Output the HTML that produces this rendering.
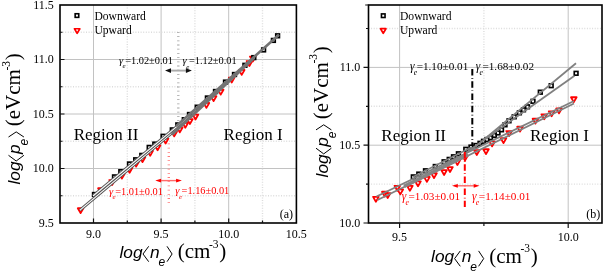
<!DOCTYPE html><html><head><meta charset="utf-8"><style>html,body{margin:0;padding:0;background:#fff;overflow:hidden}svg{display:block;will-change:transform}</style></head><body>
<svg width="603" height="271" viewBox="0 0 603 271">
<rect width="603" height="271" fill="#fff"/>
<line x1="93.5" y1="5" x2="93.5" y2="223" stroke="#c2c2c2" stroke-width="1"/>
<line x1="161.1" y1="5" x2="161.1" y2="223" stroke="#c2c2c2" stroke-width="1"/>
<line x1="228.7" y1="5" x2="228.7" y2="223" stroke="#c2c2c2" stroke-width="1"/>
<line x1="60" y1="59.5" x2="296.4" y2="59.5" stroke="#c2c2c2" stroke-width="1"/>
<line x1="60" y1="114" x2="296.4" y2="114" stroke="#c2c2c2" stroke-width="1"/>
<line x1="60" y1="168.5" x2="296.4" y2="168.5" stroke="#c2c2c2" stroke-width="1"/>
<line x1="127.3" y1="5" x2="127.3" y2="223" stroke="#dcdcdc" stroke-width="1.4" stroke-dasharray="1 1.6"/>
<line x1="194.9" y1="5" x2="194.9" y2="223" stroke="#dcdcdc" stroke-width="1.4" stroke-dasharray="1 1.6"/>
<line x1="262.5" y1="5" x2="262.5" y2="223" stroke="#dcdcdc" stroke-width="1.4" stroke-dasharray="1 1.6"/>
<line x1="60" y1="32.25" x2="296.4" y2="32.25" stroke="#dcdcdc" stroke-width="1.4" stroke-dasharray="1 1.6"/>
<line x1="60" y1="86.75" x2="296.4" y2="86.75" stroke="#dcdcdc" stroke-width="1.4" stroke-dasharray="1 1.6"/>
<line x1="60" y1="141.25" x2="296.4" y2="141.25" stroke="#dcdcdc" stroke-width="1.4" stroke-dasharray="1 1.6"/>
<line x1="60" y1="195.75" x2="296.4" y2="195.75" stroke="#dcdcdc" stroke-width="1.4" stroke-dasharray="1 1.6"/>
<line x1="399.6" y1="5" x2="399.6" y2="223" stroke="#c2c2c2" stroke-width="1"/>
<line x1="568.2" y1="5" x2="568.2" y2="223" stroke="#c2c2c2" stroke-width="1"/>
<line x1="368.5" y1="67.4" x2="602" y2="67.4" stroke="#c2c2c2" stroke-width="1"/>
<line x1="368.5" y1="145.2" x2="602" y2="145.2" stroke="#c2c2c2" stroke-width="1"/>
<line x1="483.9" y1="5" x2="483.9" y2="223" stroke="#dcdcdc" stroke-width="1.4" stroke-dasharray="1 1.6"/>
<line x1="368.5" y1="28.5" x2="602" y2="28.5" stroke="#dcdcdc" stroke-width="1.4" stroke-dasharray="1 1.6"/>
<line x1="368.5" y1="106.3" x2="602" y2="106.3" stroke="#dcdcdc" stroke-width="1.4" stroke-dasharray="1 1.6"/>
<line x1="368.5" y1="184.1" x2="602" y2="184.1" stroke="#dcdcdc" stroke-width="1.4" stroke-dasharray="1 1.6"/>
<path d="M77.8 208.25H83.4L80.6 213.15Z" fill="#fff" stroke="#f00" stroke-width="1.8" stroke-linejoin="round"/>
<path d="M98.1 188.25H103.7L100.9 193.15Z" fill="#fff" stroke="#f00" stroke-width="1.8" stroke-linejoin="round"/>
<path d="M109.3 180.15H114.9L112.1 185.05Z" fill="#fff" stroke="#f00" stroke-width="1.8" stroke-linejoin="round"/>
<path d="M119.1 173.75H124.7L121.9 178.65Z" fill="#fff" stroke="#f00" stroke-width="1.8" stroke-linejoin="round"/>
<path d="M126.8 167.85H132.4L129.6 172.75Z" fill="#fff" stroke="#f00" stroke-width="1.8" stroke-linejoin="round"/>
<path d="M133.3 161.75H138.9L136.1 166.65Z" fill="#fff" stroke="#f00" stroke-width="1.8" stroke-linejoin="round"/>
<path d="M139.7 157.25H145.3L142.5 162.15Z" fill="#fff" stroke="#f00" stroke-width="1.8" stroke-linejoin="round"/>
<path d="M147.4 150.85H153L150.2 155.75Z" fill="#fff" stroke="#f00" stroke-width="1.8" stroke-linejoin="round"/>
<path d="M154.8 145.35H160.4L157.6 150.25Z" fill="#fff" stroke="#f00" stroke-width="1.8" stroke-linejoin="round"/>
<path d="M162.8 138.65H168.4L165.6 143.55Z" fill="#fff" stroke="#f00" stroke-width="1.8" stroke-linejoin="round"/>
<path d="M171.4 131.45H177L174.2 136.35Z" fill="#fff" stroke="#f00" stroke-width="1.8" stroke-linejoin="round"/>
<path d="M177 127.45H182.6L179.8 132.35Z" fill="#fff" stroke="#f00" stroke-width="1.8" stroke-linejoin="round"/>
<path d="M182.5 122.85H188.1L185.3 127.75Z" fill="#fff" stroke="#f00" stroke-width="1.8" stroke-linejoin="round"/>
<path d="M187.1 119.15H192.7L189.9 124.05Z" fill="#fff" stroke="#f00" stroke-width="1.8" stroke-linejoin="round"/>
<path d="M192.7 114.55H198.3L195.5 119.45Z" fill="#fff" stroke="#f00" stroke-width="1.8" stroke-linejoin="round"/>
<path d="M203.6 102.95H209.2L206.4 107.85Z" fill="#fff" stroke="#f00" stroke-width="1.8" stroke-linejoin="round"/>
<path d="M210.8 96.25H216.4L213.6 101.15Z" fill="#fff" stroke="#f00" stroke-width="1.8" stroke-linejoin="round"/>
<path d="M217.9 89.75H223.5L220.7 94.65Z" fill="#fff" stroke="#f00" stroke-width="1.8" stroke-linejoin="round"/>
<path d="M228.9 77.65H234.5L231.7 82.55Z" fill="#fff" stroke="#f00" stroke-width="1.8" stroke-linejoin="round"/>
<path d="M238.9 69.95H244.5L241.7 74.85Z" fill="#fff" stroke="#f00" stroke-width="1.8" stroke-linejoin="round"/>
<path d="M246.6 61.05H252.2L249.4 65.95Z" fill="#fff" stroke="#f00" stroke-width="1.8" stroke-linejoin="round"/>
<path d="M250 56.65H255.6L252.8 61.55Z" fill="#fff" stroke="#f00" stroke-width="1.8" stroke-linejoin="round"/>
<rect x="92.65" y="192.65" width="3.7" height="3.7" fill="#fff" stroke="#000" stroke-width="1.65"/>
<rect x="112.65" y="175.05" width="3.7" height="3.7" fill="#fff" stroke="#000" stroke-width="1.65"/>
<rect x="118.95" y="169.85" width="3.7" height="3.7" fill="#fff" stroke="#000" stroke-width="1.65"/>
<rect x="127.65" y="162.15" width="3.7" height="3.7" fill="#fff" stroke="#000" stroke-width="1.65"/>
<rect x="133.85" y="157.95" width="3.7" height="3.7" fill="#fff" stroke="#000" stroke-width="1.65"/>
<rect x="139.95" y="153.55" width="3.7" height="3.7" fill="#fff" stroke="#000" stroke-width="1.65"/>
<rect x="147.35" y="145.55" width="3.7" height="3.7" fill="#fff" stroke="#000" stroke-width="1.65"/>
<rect x="152.95" y="142.25" width="3.7" height="3.7" fill="#fff" stroke="#000" stroke-width="1.65"/>
<rect x="161.25" y="134.45" width="3.7" height="3.7" fill="#fff" stroke="#000" stroke-width="1.65"/>
<rect x="170.45" y="128.05" width="3.7" height="3.7" fill="#fff" stroke="#000" stroke-width="1.65"/>
<rect x="175.95" y="123.05" width="3.7" height="3.7" fill="#fff" stroke="#000" stroke-width="1.65"/>
<rect x="182.45" y="117.85" width="3.7" height="3.7" fill="#fff" stroke="#000" stroke-width="1.65"/>
<rect x="187.65" y="112.65" width="3.7" height="3.7" fill="#fff" stroke="#000" stroke-width="1.65"/>
<rect x="195.35" y="105.35" width="3.7" height="3.7" fill="#fff" stroke="#000" stroke-width="1.65"/>
<rect x="205.55" y="96.15" width="3.7" height="3.7" fill="#fff" stroke="#000" stroke-width="1.65"/>
<rect x="213.65" y="89.65" width="3.7" height="3.7" fill="#fff" stroke="#000" stroke-width="1.65"/>
<rect x="223.65" y="80.25" width="3.7" height="3.7" fill="#fff" stroke="#000" stroke-width="1.65"/>
<rect x="232.65" y="72.65" width="3.7" height="3.7" fill="#fff" stroke="#000" stroke-width="1.65"/>
<rect x="243.05" y="63.45" width="3.7" height="3.7" fill="#fff" stroke="#000" stroke-width="1.65"/>
<rect x="251.95" y="55.75" width="3.7" height="3.7" fill="#fff" stroke="#000" stroke-width="1.65"/>
<rect x="261.75" y="48.05" width="3.7" height="3.7" fill="#fff" stroke="#000" stroke-width="1.65"/>
<rect x="271.55" y="38.55" width="3.7" height="3.7" fill="#fff" stroke="#000" stroke-width="1.65"/>
<rect x="275.75" y="33.95" width="3.7" height="3.7" fill="#fff" stroke="#000" stroke-width="1.65"/>
<line x1="80" y1="210.12" x2="185" y2="121.92" stroke="#555555" stroke-width="3.0"/>
<line x1="80" y1="210.12" x2="185" y2="121.92" stroke="#fff" stroke-width="1.1"/>
<line x1="93" y1="195.96" x2="190" y2="115.64" stroke="#555555" stroke-width="3.0"/>
<line x1="93" y1="195.96" x2="190" y2="115.64" stroke="#fff" stroke-width="1.1"/>
<line x1="172" y1="134.29" x2="254" y2="57.87" stroke="#737373" stroke-width="3.0"/>
<line x1="176" y1="126.22" x2="279" y2="34.76" stroke="#737373" stroke-width="2.6"/>
<path d="M373.1 196.85H378.7L375.9 201.75Z" fill="#fff" stroke="#f00" stroke-width="1.8" stroke-linejoin="round"/>
<path d="M382 191.75H387.6L384.8 196.65Z" fill="#fff" stroke="#f00" stroke-width="1.8" stroke-linejoin="round"/>
<path d="M384.9 193.15H390.5L387.7 198.05Z" fill="#fff" stroke="#f00" stroke-width="1.8" stroke-linejoin="round"/>
<path d="M394.5 185.85H400.1L397.3 190.75Z" fill="#fff" stroke="#f00" stroke-width="1.8" stroke-linejoin="round"/>
<path d="M397.5 189.45H403.1L400.3 194.35Z" fill="#fff" stroke="#f00" stroke-width="1.8" stroke-linejoin="round"/>
<path d="M407.1 185.85H412.7L409.9 190.75Z" fill="#fff" stroke="#f00" stroke-width="1.8" stroke-linejoin="round"/>
<path d="M415.2 181.35H420.8L418 186.25Z" fill="#fff" stroke="#f00" stroke-width="1.8" stroke-linejoin="round"/>
<path d="M424.1 176.95H429.7L426.9 181.85Z" fill="#fff" stroke="#f00" stroke-width="1.8" stroke-linejoin="round"/>
<path d="M431.2 173.25H436.8L434 178.15Z" fill="#fff" stroke="#f00" stroke-width="1.8" stroke-linejoin="round"/>
<path d="M441.3 170.05H446.9L444.1 174.95Z" fill="#fff" stroke="#f00" stroke-width="1.8" stroke-linejoin="round"/>
<path d="M447.2 167.05H452.8L450 171.95Z" fill="#fff" stroke="#f00" stroke-width="1.8" stroke-linejoin="round"/>
<path d="M454.6 160.15H460.2L457.4 165.05Z" fill="#fff" stroke="#f00" stroke-width="1.8" stroke-linejoin="round"/>
<path d="M462.2 155.65H467.8L465 160.55Z" fill="#fff" stroke="#f00" stroke-width="1.8" stroke-linejoin="round"/>
<path d="M474 150.05H479.6L476.8 154.95Z" fill="#fff" stroke="#f00" stroke-width="1.8" stroke-linejoin="round"/>
<path d="M483.2 149.25H488.8L486 154.15Z" fill="#fff" stroke="#f00" stroke-width="1.8" stroke-linejoin="round"/>
<path d="M489.3 141.45H494.9L492.1 146.35Z" fill="#fff" stroke="#f00" stroke-width="1.8" stroke-linejoin="round"/>
<path d="M500.7 138.25H506.3L503.5 143.15Z" fill="#fff" stroke="#f00" stroke-width="1.8" stroke-linejoin="round"/>
<path d="M506.3 131.15H511.9L509.1 136.05Z" fill="#fff" stroke="#f00" stroke-width="1.8" stroke-linejoin="round"/>
<path d="M517.2 126.75H522.8L520 131.65Z" fill="#fff" stroke="#f00" stroke-width="1.8" stroke-linejoin="round"/>
<path d="M532.6 118.75H538.2L535.4 123.65Z" fill="#fff" stroke="#f00" stroke-width="1.8" stroke-linejoin="round"/>
<path d="M541.4 114.35H547L544.2 119.25Z" fill="#fff" stroke="#f00" stroke-width="1.8" stroke-linejoin="round"/>
<path d="M548.8 111.35H554.4L551.6 116.25Z" fill="#fff" stroke="#f00" stroke-width="1.8" stroke-linejoin="round"/>
<path d="M556.2 108.45H561.8L559 113.35Z" fill="#fff" stroke="#f00" stroke-width="1.8" stroke-linejoin="round"/>
<path d="M571 97.25H576.6L573.8 102.15Z" fill="#fff" stroke="#f00" stroke-width="1.8" stroke-linejoin="round"/>
<rect x="411.45" y="175.05" width="3.7" height="3.7" fill="#fff" stroke="#000" stroke-width="1.65"/>
<rect x="416.95" y="172.25" width="3.7" height="3.7" fill="#fff" stroke="#000" stroke-width="1.65"/>
<rect x="423.65" y="168.95" width="3.7" height="3.7" fill="#fff" stroke="#000" stroke-width="1.65"/>
<rect x="433.45" y="164.65" width="3.7" height="3.7" fill="#fff" stroke="#000" stroke-width="1.65"/>
<rect x="442.25" y="159.95" width="3.7" height="3.7" fill="#fff" stroke="#000" stroke-width="1.65"/>
<rect x="447.35" y="157.55" width="3.7" height="3.7" fill="#fff" stroke="#000" stroke-width="1.65"/>
<rect x="451.65" y="154.95" width="3.7" height="3.7" fill="#fff" stroke="#000" stroke-width="1.65"/>
<rect x="456.55" y="151.95" width="3.7" height="3.7" fill="#fff" stroke="#000" stroke-width="1.65"/>
<rect x="463.95" y="147.45" width="3.7" height="3.7" fill="#fff" stroke="#000" stroke-width="1.65"/>
<rect x="469.15" y="145.25" width="3.7" height="3.7" fill="#fff" stroke="#000" stroke-width="1.65"/>
<rect x="474.15" y="143.65" width="3.7" height="3.7" fill="#fff" stroke="#000" stroke-width="1.65"/>
<rect x="478.15" y="141.45" width="3.7" height="3.7" fill="#fff" stroke="#000" stroke-width="1.65"/>
<rect x="481.65" y="139.45" width="3.7" height="3.7" fill="#fff" stroke="#000" stroke-width="1.65"/>
<rect x="485.15" y="137.65" width="3.7" height="3.7" fill="#fff" stroke="#000" stroke-width="1.65"/>
<rect x="488.65" y="135.85" width="3.7" height="3.7" fill="#fff" stroke="#000" stroke-width="1.65"/>
<rect x="492.55" y="133.55" width="3.7" height="3.7" fill="#fff" stroke="#000" stroke-width="1.65"/>
<rect x="496.15" y="131.05" width="3.7" height="3.7" fill="#fff" stroke="#000" stroke-width="1.65"/>
<rect x="499.65" y="127.95" width="3.7" height="3.7" fill="#fff" stroke="#000" stroke-width="1.65"/>
<rect x="503.15" y="122.95" width="3.7" height="3.7" fill="#fff" stroke="#000" stroke-width="1.65"/>
<rect x="507.15" y="118.95" width="3.7" height="3.7" fill="#fff" stroke="#000" stroke-width="1.65"/>
<rect x="512.35" y="114.95" width="3.7" height="3.7" fill="#fff" stroke="#000" stroke-width="1.65"/>
<rect x="517.55" y="110.95" width="3.7" height="3.7" fill="#fff" stroke="#000" stroke-width="1.65"/>
<rect x="521.65" y="107.95" width="3.7" height="3.7" fill="#fff" stroke="#000" stroke-width="1.65"/>
<rect x="525.65" y="104.95" width="3.7" height="3.7" fill="#fff" stroke="#000" stroke-width="1.65"/>
<rect x="531.15" y="99.45" width="3.7" height="3.7" fill="#fff" stroke="#000" stroke-width="1.65"/>
<rect x="538.45" y="90.35" width="3.7" height="3.7" fill="#fff" stroke="#000" stroke-width="1.65"/>
<rect x="549.35" y="83.85" width="3.7" height="3.7" fill="#fff" stroke="#000" stroke-width="1.65"/>
<rect x="574.25" y="71.45" width="3.7" height="3.7" fill="#fff" stroke="#000" stroke-width="1.65"/>
<line x1="376.5" y1="196.5" x2="574" y2="101" stroke="#808080" stroke-width="1.8"/>
<line x1="377.5" y1="200" x2="574" y2="103.5" stroke="#808080" stroke-width="1.8"/>
<line x1="465" y1="153.5" x2="574.5" y2="75.7" stroke="#808080" stroke-width="1.8"/>
<line x1="470" y1="151.1" x2="576" y2="63.3" stroke="#808080" stroke-width="1.8"/>
<line x1="413" y1="177" x2="472" y2="147" stroke="#808080" stroke-width="1.8"/>
<line x1="404" y1="186.4" x2="468" y2="154.6" stroke="#858585" stroke-width="3.8"/>
<rect x="60" y="5" width="236.4" height="218" fill="none" stroke="#000" stroke-width="1.6"/>
<rect x="368.5" y="5" width="233.5" height="218" fill="none" stroke="#000" stroke-width="1.6"/>
<path d="M93.5 223V218.5 M161.1 223V218.5 M228.7 223V218.5 M127.3 223V220.5 M194.9 223V220.5 M262.5 223V220.5 M60 59.5H64.5 M60 114H64.5 M60 168.5H64.5 M60 32.25H62.5 M60 86.75H62.5 M60 141.25H62.5 M60 195.75H62.5 M399.6 223V228 M568.2 223V228 M483.9 223V226 M368.5 67.4H363.5 M368.5 145.2H363.5 M368.5 223H363.5 M368.5 28.5H366 M368.5 106.3H366 M368.5 184.1H366 M368.5 5H365.2" stroke="#111" stroke-width="1.2" fill="none"/>
<text x="93.5" y="238.2" font-size="12" text-anchor="middle" fill="#000" style="font-family:'Liberation Serif',serif" >9.0</text>
<text x="161.1" y="238.2" font-size="12" text-anchor="middle" fill="#000" style="font-family:'Liberation Serif',serif" >9.5</text>
<text x="228.7" y="238.2" font-size="12" text-anchor="middle" fill="#000" style="font-family:'Liberation Serif',serif" >10.0</text>
<text x="296.3" y="238.2" font-size="12" text-anchor="middle" fill="#000" style="font-family:'Liberation Serif',serif" >10.5</text>
<text x="53.8" y="8.6" font-size="12" text-anchor="end" fill="#000" style="font-family:'Liberation Serif',serif" >11.5</text>
<text x="53.8" y="63.1" font-size="12" text-anchor="end" fill="#000" style="font-family:'Liberation Serif',serif" >11.0</text>
<text x="53.8" y="117.6" font-size="12" text-anchor="end" fill="#000" style="font-family:'Liberation Serif',serif" >10.5</text>
<text x="53.8" y="172.1" font-size="12" text-anchor="end" fill="#000" style="font-family:'Liberation Serif',serif" >10.0</text>
<text x="53.8" y="226.6" font-size="12" text-anchor="end" fill="#000" style="font-family:'Liberation Serif',serif" >9.5</text>
<text x="399.6" y="241.2" font-size="12" text-anchor="middle" fill="#000" style="font-family:'Liberation Serif',serif" >9.5</text>
<text x="568.2" y="241.2" font-size="12" text-anchor="middle" fill="#000" style="font-family:'Liberation Serif',serif" >10.0</text>
<text x="360.3" y="71.4" font-size="12" text-anchor="end" fill="#000" style="font-family:'Liberation Serif',serif" >11.0</text>
<text x="360.3" y="149.2" font-size="12" text-anchor="end" fill="#000" style="font-family:'Liberation Serif',serif" >10.5</text>
<text x="360.3" y="227" font-size="12" text-anchor="end" fill="#000" style="font-family:'Liberation Serif',serif" >10.0</text>
<rect x="75.15" y="13.75" width="3.6" height="3.6" fill="#fff" stroke="#000" stroke-width="1.6"/>
<path d="M74.45 28.75H79.85L77.15 33.35Z" fill="#fff" stroke="#f00" stroke-width="1.7" stroke-linejoin="round"/>
<text x="94.4" y="19.8" font-size="11.6" text-anchor="start" fill="#000" style="font-family:'Liberation Serif',serif" >Downward</text>
<text x="94.4" y="33.6" font-size="11.6" text-anchor="start" fill="#000" style="font-family:'Liberation Serif',serif" >Upward</text>
<rect x="381.45" y="13.9" width="3.6" height="3.6" fill="#fff" stroke="#000" stroke-width="1.6"/>
<path d="M380.55 28.7H385.95L383.25 33.3Z" fill="#fff" stroke="#f00" stroke-width="1.7" stroke-linejoin="round"/>
<text x="400" y="20.2" font-size="11.6" text-anchor="start" fill="#000" style="font-family:'Liberation Serif',serif" >Downward</text>
<text x="400" y="34" font-size="11.6" text-anchor="start" fill="#000" style="font-family:'Liberation Serif',serif" >Upward</text>
<text x="73.7" y="139.6" font-size="17" text-anchor="start" fill="#000" style="font-family:'Liberation Serif',serif" >Region II</text>
<text x="223.6" y="139.7" font-size="17" text-anchor="start" fill="#000" style="font-family:'Liberation Serif',serif" >Region I</text>
<text x="381.3" y="140.7" font-size="17" text-anchor="start" fill="#000" style="font-family:'Liberation Serif',serif" >Region II</text>
<text x="530" y="140.5" font-size="17" text-anchor="start" fill="#000" style="font-family:'Liberation Serif',serif" >Region I</text>
<text x="279.7" y="217.8" font-size="12" text-anchor="start" fill="#000" style="font-family:'Liberation Serif',serif" >(a)</text>
<text x="586.2" y="217.9" font-size="12" text-anchor="start" fill="#000" style="font-family:'Liberation Serif',serif" >(b)</text>
<text x="118.91" y="63.8" font-size="10.6" font-style="italic" fill="#000" style="font-family:'Liberation Serif',serif">γ</text>
<text x="122.49" y="68.4" font-size="6.9" font-style="italic" fill="#000" style="font-family:'Liberation Serif',serif">e</text>
<text x="125.18" y="63.8" font-size="10.35" fill="#000" style="font-family:'Liberation Serif',serif">=1.02±0.01</text>
<text x="182.61" y="63.9" font-size="10.6" font-style="italic" fill="#000" style="font-family:'Liberation Serif',serif">γ</text>
<text x="186.19" y="68.5" font-size="6.9" font-style="italic" fill="#000" style="font-family:'Liberation Serif',serif">e</text>
<text x="188.88" y="63.9" font-size="10.35" fill="#000" style="font-family:'Liberation Serif',serif">=1.12±0.01</text>
<text x="108.91" y="194.5" font-size="10.6" font-style="italic" fill="#f00" style="font-family:'Liberation Serif',serif">γ</text>
<text x="112.49" y="199.1" font-size="6.9" font-style="italic" fill="#f00" style="font-family:'Liberation Serif',serif">e</text>
<text x="115.18" y="194.5" font-size="10.35" fill="#f00" style="font-family:'Liberation Serif',serif">=1.01±0.01</text>
<text x="175.31" y="194.3" font-size="10.6" font-style="italic" fill="#f00" style="font-family:'Liberation Serif',serif">γ</text>
<text x="178.89" y="198.9" font-size="6.9" font-style="italic" fill="#f00" style="font-family:'Liberation Serif',serif">e</text>
<text x="181.58" y="194.3" font-size="10.35" fill="#f00" style="font-family:'Liberation Serif',serif">=1.16±0.01</text>
<text x="409.89" y="69.8" font-size="11.5" font-style="italic" fill="#000" style="font-family:'Liberation Serif',serif">γ</text>
<text x="413.66" y="74.8" font-size="7.8" font-style="italic" fill="#000" style="font-family:'Liberation Serif',serif">e</text>
<text x="416.64" y="69.8" font-size="11.2" fill="#000" style="font-family:'Liberation Serif',serif">=1.10±0.01</text>
<text x="475.69" y="69.8" font-size="11.5" font-style="italic" fill="#000" style="font-family:'Liberation Serif',serif">γ</text>
<text x="479.46" y="74.8" font-size="7.8" font-style="italic" fill="#000" style="font-family:'Liberation Serif',serif">e</text>
<text x="482.44" y="69.8" font-size="11.2" fill="#000" style="font-family:'Liberation Serif',serif">=1.68±0.02</text>
<text x="401.79" y="200.2" font-size="11.5" font-style="italic" fill="#f00" style="font-family:'Liberation Serif',serif">γ</text>
<text x="405.56" y="205.2" font-size="7.8" font-style="italic" fill="#f00" style="font-family:'Liberation Serif',serif">e</text>
<text x="408.54" y="200.2" font-size="11.2" fill="#f00" style="font-family:'Liberation Serif',serif">=1.03±0.01</text>
<text x="472.09" y="200.2" font-size="11.5" font-style="italic" fill="#f00" style="font-family:'Liberation Serif',serif">γ</text>
<text x="475.86" y="205.2" font-size="7.8" font-style="italic" fill="#f00" style="font-family:'Liberation Serif',serif">e</text>
<text x="478.84" y="200.2" font-size="11.2" fill="#f00" style="font-family:'Liberation Serif',serif">=1.14±0.01</text>
<line x1="178.3" y1="32" x2="178.3" y2="124" stroke="#a0a0a0" stroke-width="2.4" stroke-dasharray="0.8 3.4"/>
<line x1="168.8" y1="143.5" x2="168.8" y2="204" stroke="#ff7a7a" stroke-width="2.4" stroke-dasharray="0.8 3.4"/>
<line x1="472.3" y1="69.1" x2="472.3" y2="146" stroke="#000" stroke-width="2" stroke-dasharray="6.5 2.6 0.7 2.4"/>
<line x1="464.8" y1="152" x2="464.8" y2="207" stroke="#f00" stroke-width="2" stroke-dasharray="6.5 2.6 0.7 2.4"/>
<line x1="170" y1="70.6" x2="186.9" y2="70.6" stroke="#aaa" stroke-width="1.9"/>
<path d="M165 70.6L171 68.2V73Z M191.9 70.6L185.9 68.2V73Z" fill="#111"/>
<line x1="160.1" y1="180.6" x2="177.1" y2="180.6" stroke="#ff6a6a" stroke-width="1.4"/>
<path d="M155.3 180.6L161.1 178.7V182.5Z M181.9 180.6L176.1 178.7V182.5Z" fill="#f00"/>
<line x1="456.8" y1="185.8" x2="474.7" y2="185.8" stroke="#ff6a6a" stroke-width="1.4"/>
<path d="M452 185.8L457.8 183.9V187.7Z M479.5 185.8L473.7 183.9V187.7Z" fill="#f00"/>
<g transform="translate(119.8,257.8)">
<text x="-0.3" y="0" font-size="17.3" font-style="italic" style="font-family:'Liberation Sans',sans-serif">log</text>
<path d="M28.9 -11.5L23.2 -3.8L28.9 3.9" fill="none" stroke="#000" stroke-width="1"/>
<text x="30.3" y="0" font-size="17.3" font-style="italic" style="font-family:'Liberation Sans',sans-serif">n</text>
<text x="38.8" y="8.4" font-size="12" font-style="italic" style="font-family:'Liberation Sans',sans-serif">e</text>
<path d="M47.2 -11.5L52.3 -3.8L47.2 3.9" fill="none" stroke="#000" stroke-width="1"/>
<text x="57.9" y="0.3" font-size="21" style="font-family:'Liberation Serif',serif">(cm</text>
<text x="89.1" y="-10.2" font-size="11.5" style="font-family:'Liberation Serif',serif">-3</text>
<text x="99.4" y="0.3" font-size="21" style="font-family:'Liberation Serif',serif">)</text>
</g>
<g transform="translate(431.4,262.4)">
<text x="-0.3" y="0" font-size="17.3" font-style="italic" style="font-family:'Liberation Sans',sans-serif">log</text>
<path d="M28.9 -11.5L23.2 -3.8L28.9 3.9" fill="none" stroke="#000" stroke-width="1"/>
<text x="30.3" y="0" font-size="17.3" font-style="italic" style="font-family:'Liberation Sans',sans-serif">n</text>
<text x="38.8" y="8.4" font-size="12" font-style="italic" style="font-family:'Liberation Sans',sans-serif">e</text>
<path d="M47.2 -11.5L52.3 -3.8L47.2 3.9" fill="none" stroke="#000" stroke-width="1"/>
<text x="57.9" y="0.3" font-size="21" style="font-family:'Liberation Serif',serif">(cm</text>
<text x="89.1" y="-10.2" font-size="11.5" style="font-family:'Liberation Serif',serif">-3</text>
<text x="99.4" y="0.3" font-size="21" style="font-family:'Liberation Serif',serif">)</text>
</g>
<g transform="translate(20,184.2) rotate(-90)">
<text x="-0.3" y="0" font-size="17.3" font-style="italic" style="font-family:'Liberation Sans',sans-serif">log</text>
<path d="M28.9 -11.5L23.2 -3.8L28.9 3.9" fill="none" stroke="#000" stroke-width="1"/>
<text x="30.3" y="0" font-size="17.3" font-style="italic" style="font-family:'Liberation Sans',sans-serif">p</text>
<text x="38.8" y="8.4" font-size="12" font-style="italic" style="font-family:'Liberation Sans',sans-serif">e</text>
<path d="M47.2 -11.5L52.3 -3.8L47.2 3.9" fill="none" stroke="#000" stroke-width="1"/>
<text x="57.9" y="0.3" font-size="21" style="font-family:'Liberation Serif',serif">(eVcm</text>
<text x="113.6" y="-10.2" font-size="11.5" style="font-family:'Liberation Serif',serif">-3</text>
<text x="123.9" y="0.3" font-size="21" style="font-family:'Liberation Serif',serif">)</text>
</g>
<g transform="translate(327.5,177.1) rotate(-90)">
<text x="-0.3" y="0" font-size="17.3" font-style="italic" style="font-family:'Liberation Sans',sans-serif">log</text>
<path d="M28.9 -11.5L23.2 -3.8L28.9 3.9" fill="none" stroke="#000" stroke-width="1"/>
<text x="30.3" y="0" font-size="17.3" font-style="italic" style="font-family:'Liberation Sans',sans-serif">p</text>
<text x="38.8" y="8.4" font-size="12" font-style="italic" style="font-family:'Liberation Sans',sans-serif">e</text>
<path d="M47.2 -11.5L52.3 -3.8L47.2 3.9" fill="none" stroke="#000" stroke-width="1"/>
<text x="57.9" y="0.3" font-size="21" style="font-family:'Liberation Serif',serif">(eVcm</text>
<text x="113.6" y="-10.2" font-size="11.5" style="font-family:'Liberation Serif',serif">-3</text>
<text x="123.9" y="0.3" font-size="21" style="font-family:'Liberation Serif',serif">)</text>
</g>
</svg></body></html>
